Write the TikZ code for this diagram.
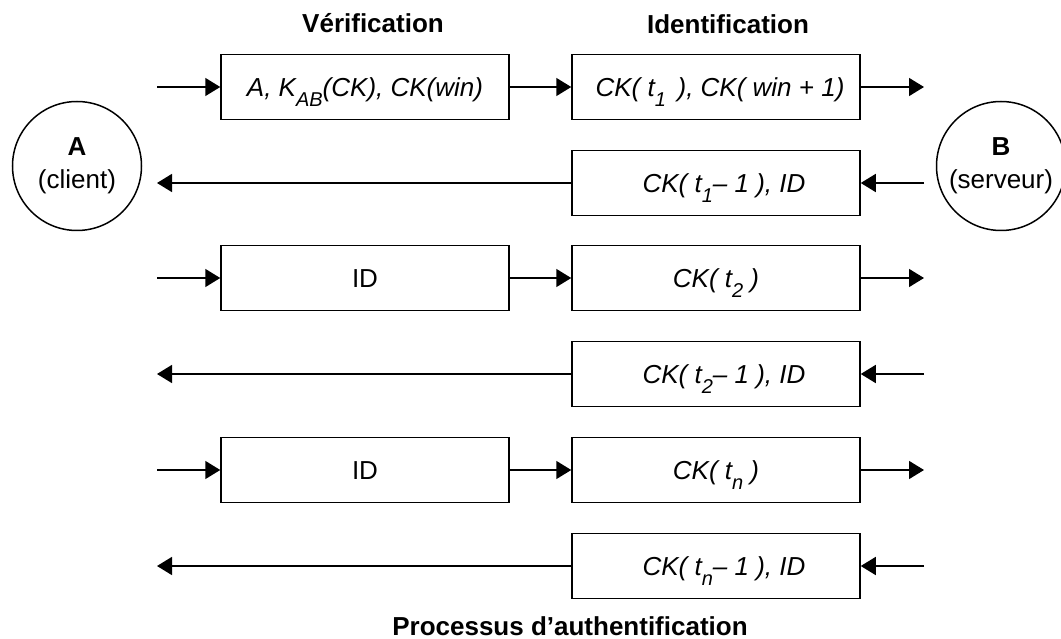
\documentclass[tikz,border=0pt]{standalone}
\usepackage{fontspec}
\setmainfont{Liberation Sans}
\usetikzlibrary{arrows.meta}
% lowered, smaller index (t_1, K_AB ...)
\newcommand{\lo}[1]{\raisebox{-10.5pt}{\fontsize{20}{20}\selectfont #1}}

\begin{document}
\begin{tikzpicture}[x=1pt,y=-1pt,
  every node/.style={font=\fontsize{26}{33}\selectfont, inner sep=0pt},
  msg/.style={draw, line width=1.5pt, minimum width=288pt, minimum height=65pt,
              text height=18.5pt, text depth=0pt},
  party/.style={draw, circle, line width=1.5pt, minimum size=129pt, align=center},
  flow/.style={line width=1.5pt, -{Triangle[length=15pt,width=18pt]}},
  head/.style={font=\fontsize{26}{30}\selectfont\bfseries, anchor=base}]

\fill[white] (0,0) rectangle (1061,639);
\path[use as bounding box] (0,0) rectangle (1061,639);

% column headings and caption
\node[head] (verif) at (373,33) {Vérification};
\node[head] (ident) at (728,34) {Identification};
\node[head] (proc)  at (570,635) {Processus d’authentification};

% the two parties
\node[party] (A) at (77,166)  {\textbf{A}\\(client)};
\node[party] (B) at (1001,166) {\textbf{B}\\(serveur)};

% message boxes: left column (verification), right column (identification)
\node[msg] (L1) at (365,87)  {\itshape A, K\lo{AB}(CK), CK(win)};
\node[msg] (R1) at (716,87)  {\itshape\hspace{8pt}CK( t\lo{1}\hspace{0.45em}), CK( win + 1)};
\node[msg] (R2) at (716,183) {\itshape\hspace{16pt}CK( t\lo{1}– 1 ), ID};
\node[msg] (L3) at (365,278) {ID};
\node[msg] (R3) at (716,278) {\itshape CK( t\lo{2} )};
\node[msg] (R4) at (716,374) {\itshape\hspace{16pt}CK( t\lo{2}– 1 ), ID};
\node[msg] (L5) at (365,470) {ID};
\node[msg] (R5) at (716,470) {\itshape CK( t\lo{n} )};
\node[msg] (R6) at (716,566) {\itshape\hspace{16pt}CK( t\lo{n}– 1 ), ID};

% free ends of the flows
\coordinate (a1) at (157,87);   \coordinate (b1) at (924,87);
\coordinate (b2) at (924,183);  \coordinate (a2) at (157,183);
\coordinate (a3) at (157,278);  \coordinate (b3) at (924,278);
\coordinate (b4) at (924,374);  \coordinate (a4) at (157,374);
\coordinate (a5) at (157,470);  \coordinate (b5) at (924,470);
\coordinate (b6) at (924,566);  \coordinate (a6) at (157,566);

% A -> B flows
\draw[flow] (a1) -- (L1);
\draw[flow] (L1) -- (R1);
\draw[flow] (R1) -- (b1);
\draw[flow] (a3) -- (L3);
\draw[flow] (L3) -- (R3);
\draw[flow] (R3) -- (b3);
\draw[flow] (a5) -- (L5);
\draw[flow] (L5) -- (R5);
\draw[flow] (R5) -- (b5);

% B -> A flows
\draw[flow] (b2) -- (R2);
\draw[flow] (R2) -- (a2);
\draw[flow] (b4) -- (R4);
\draw[flow] (R4) -- (a4);
\draw[flow] (b6) -- (R6);
\draw[flow] (R6) -- (a6);
\end{tikzpicture}
\end{document}
